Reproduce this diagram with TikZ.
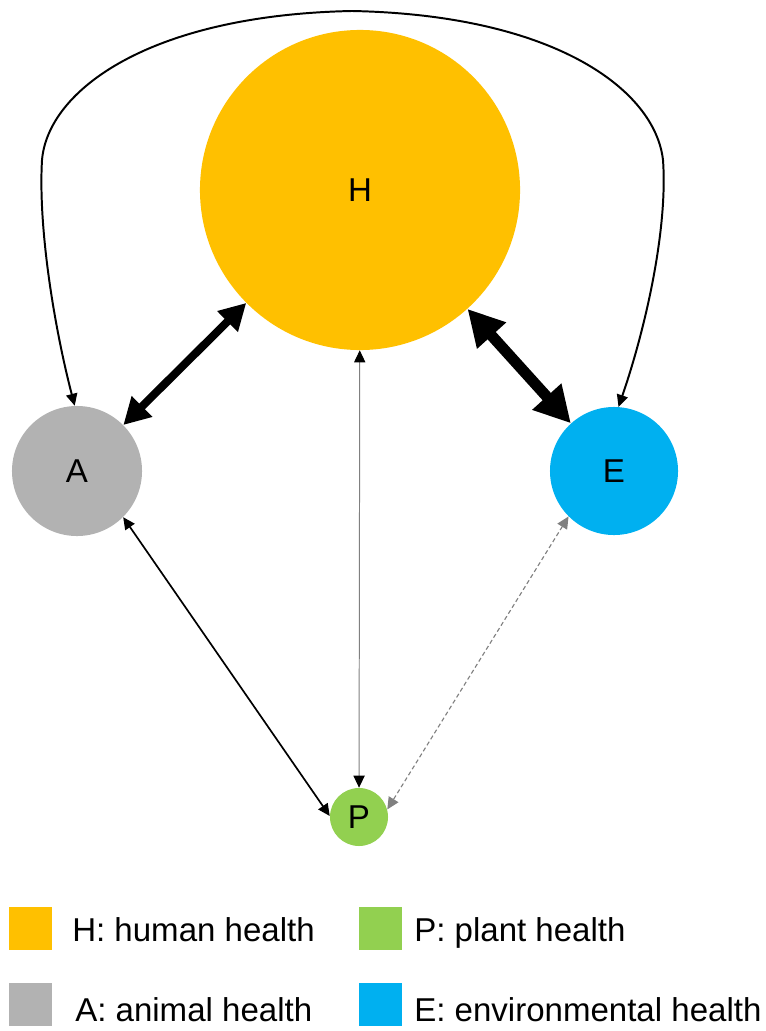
\documentclass[tikz,border=0pt]{standalone}
\usepackage{fontspec}
\setmainfont{Liberation Sans}
\usetikzlibrary{arrows.meta}
\definecolor{hcol}{HTML}{FFC000}
\definecolor{acol}{HTML}{B2B2B2}
\definecolor{ecol}{HTML}{00B0F0}
\definecolor{pcol}{HTML}{92D050}
\tikzset{
  health/.style={circle,minimum size=#1,inner sep=0pt,font=\fontsize{23.5}{28}\selectfont},
  legbox/.style={minimum size=1.075cm,inner sep=0pt},
  legtext/.style={anchor=base west,inner sep=0pt,font=\fontsize{23.5}{28}\selectfont},
  smalltip/.style={Triangle[length=0.3cm,width=0.28cm,#1]},
  smalltip/.default={}
}
\begin{document}
\begin{tikzpicture}[x=0.025cm,y=-0.025cm]
    \useasboundingbox (0,0) rectangle (765,1031);
    \node[health=8cm,fill=hcol] (H) at (360,190) {H};
    \node[health=3.25cm,fill=acol] (A) at (77,471) {A};
    \node[health=3.2cm,fill=ecol] (E) at (614,471) {E};
    \node[health=1.45cm,fill=pcol] (P) at (359,817) {P};
    % strong links
    \draw[line width=0.2cm,{Triangle[length=0.66cm,width=0.69cm]}-{Triangle[length=0.66cm,width=0.69cm]}]
    (A) -- (H);
    \draw[line width=0.275cm,{Triangle[length=0.9cm,width=0.92cm]}-{Triangle[length=0.9cm,width=0.92cm]}]
    (H) -- (E);
    % weak links
    \draw[line width=0.7pt,gray,{Triangle[length=0.3cm,width=0.28cm,color=black]}-{Triangle[length=0.3cm,width=0.28cm,color=black]}]
    (H) -- (P);
    \draw[line width=1.2pt,{Triangle[length=0.3cm,width=0.28cm]}-{Triangle[length=0.3cm,width=0.28cm]}]
    (A.-45) -- (P.178);
    \draw[line width=0.8pt,gray,dash pattern=on 3pt off 2pt,{Triangle[length=0.3cm,width=0.28cm]}-{Triangle[length=0.3cm,width=0.28cm]}]
    (E.225) -- (P.15);
    \draw[line width=1.4pt,{Triangle[length=0.3cm,width=0.28cm]}-{Triangle[length=0.3cm,width=0.28cm]}]
    (A.92) .. controls (55,330) and (38,230) .. (42,160)
    .. controls (48,90) and (150,15) .. (352,11)
    .. controls (555,15) and (655,90) .. (663,160)
    .. controls (668,230) and (645,330) .. (E.86);
    % legend
    \node[legbox,fill=hcol] (lh) at (30.5,928.5) {};
    \node[legtext] (th) at (72,941) {H: human health};
    \node[legbox,fill=acol] (la) at (30.5,1004.5) {};
    \node[legtext] (ta) at (75,1021) {A: animal health};
    \node[legbox,fill=pcol] (lp) at (380.5,928.5) {};
    \node[legtext] (tp) at (414,941) {P: plant health};
    \node[legbox,fill=ecol] (le) at (380.5,1004.5) {};
    \node[legtext] (te) at (414,1021) {E: environmental health};
\end{tikzpicture}
\end{document}
